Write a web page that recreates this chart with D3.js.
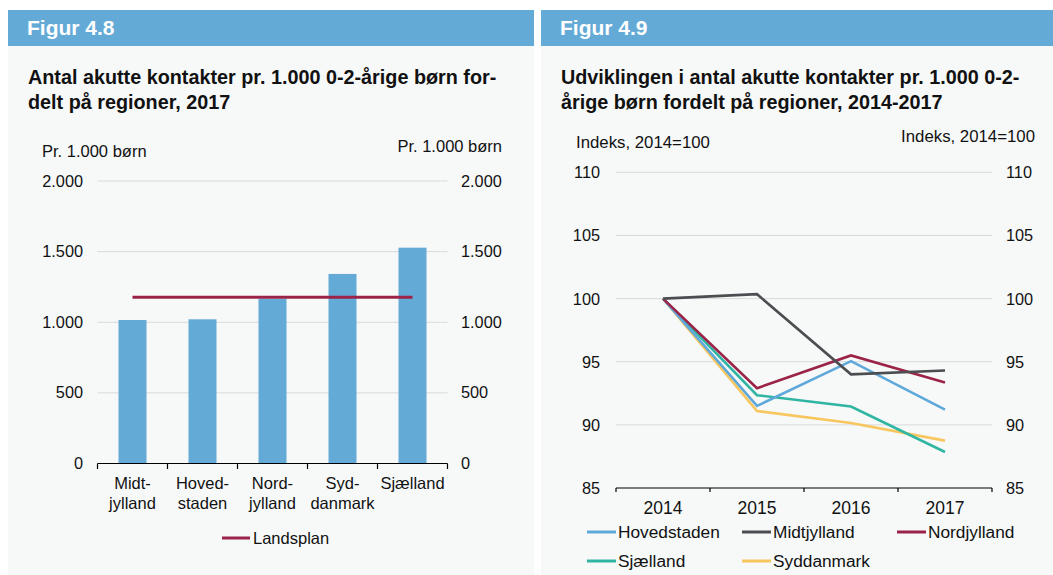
<!DOCTYPE html>
<html><head><meta charset="utf-8">
<script src="https://cdn.jsdelivr.net/npm/d3@7"></script>
<style>
body{margin:0;background:#fff;font-family:"Liberation Sans",Arial,sans-serif;}
svg text{font-family:"Liberation Sans",Arial,sans-serif;}
</style></head><body>
<svg id="c" width="1053" height="575"></svg>
<script>
// ---- Figure 4.8 data ----
const regions48 = [["Midt-","jylland"],["Hoved-","staden"],["Nord-","jylland"],["Syd-","danmark"],["Sjælland"]];
const values48 = [1016, 1021, 1167, 1342, 1528];
const landsplan = 1177;
const ticks48 = [0, 500, 1000, 1500, 2000];
const tickLabels48 = ["0","500","1.000","1.500","2.000"];

// ---- Figure 4.9 data ----
const years = ["2014","2015","2016","2017"];
const hovedstaden = [100, 91.5, 95.05, 91.2];
const midtjylland = [100, 100.35, 94.0, 94.3];
const nordjylland = [100, 92.9, 95.5, 93.35];
const sjaelland = [100, 92.35, 91.45, 87.85];
const syddanmark = [100, 91.1, 90.15, 88.75];
const ticks49 = [85, 90, 95, 100, 105, 110];

const svg = d3.select("#c");
const headerColor = "#64aad6";
const panelBg = "#f7f9f9";
const gridColor = "#d9d9d9";
const tickFs = 16.3;

function panel(x0, x1, title, lines) {
  svg.append("rect").attr("x", x0).attr("y", 10).attr("width", x1 - x0).attr("height", 565).attr("fill", panelBg);
  svg.append("rect").attr("x", x0).attr("y", 10).attr("width", x1 - x0).attr("height", 36).attr("fill", headerColor);
  svg.append("text").attr("x", x0 + 19).attr("y", 35).attr("fill", "#fff").attr("font-weight", "bold").attr("font-size", 21).text(title);
  lines.forEach((l, i) => svg.append("text").attr("x", x0 + 20).attr("y", 84 + i * 25).attr("font-weight", "bold").attr("font-size", 19.8).attr("fill", "#111").text(l));
}

panel(8, 534, "Figur 4.8", ["Antal akutte kontakter pr. 1.000 0-2-årige børn for-", "delt på regioner, 2017"]);
panel(541, 1053, "Figur 4.9", ["Udviklingen i antal akutte kontakter pr. 1.000 0-2-", "årige børn fordelt på regioner, 2014-2017"]);

// ---- Chart 4.8 ----
{
  const xb = d3.scaleBand().domain(d3.range(values48.length)).range([97.5, 447.5]);
  const y = d3.scaleLinear().domain([0, 2000]).range([463.5, 181]);
  const g = svg.append("g");
  g.selectAll("line.grid").data(ticks48.slice(1)).join("line")
    .attr("x1", 97.5).attr("x2", 447.5).attr("y1", d => y(d)).attr("y2", d => y(d))
    .attr("stroke", gridColor).attr("stroke-width", 1);
  g.selectAll("rect.bar").data(values48).join("rect")
    .attr("x", (d, i) => xb(i) + xb.bandwidth() * 0.3).attr("width", xb.bandwidth() * 0.4)
    .attr("y", d => y(d)).attr("height", d => y(0) - y(d)).attr("fill", "#64aad6");
  g.append("line").attr("x1", xb(0) + xb.bandwidth() / 2).attr("x2", xb(values48.length - 1) + xb.bandwidth() / 2)
    .attr("y1", y(landsplan)).attr("y2", y(landsplan)).attr("stroke", "#9b2348").attr("stroke-width", 3);
  g.append("line").attr("x1", 97.5).attr("x2", 447.5).attr("y1", 463.5).attr("y2", 463.5).attr("stroke", "#000").attr("stroke-width", 1.2);
  d3.range(values48.length + 1).forEach(i => {
    const xx = 97.5 + i * xb.bandwidth();
    g.append("line").attr("x1", xx).attr("x2", xx).attr("y1", 463.5).attr("y2", 469).attr("stroke", "#000").attr("stroke-width", 1.2);
  });
  regions48.forEach((lines, i) => {
    lines.forEach((l, j) => g.append("text").attr("x", xb(i) + xb.bandwidth() / 2).attr("y", 489 + j * 19.5)
      .attr("text-anchor", "middle").attr("font-size", 16.5).attr("fill", "#111").text(l));
  });
  ticks48.forEach((t, i) => {
    g.append("text").attr("x", 83).attr("y", y(t) + 5.5).attr("text-anchor", "end").attr("font-size", tickFs).attr("fill", "#111").text(tickLabels48[i]);
    g.append("text").attr("x", 461).attr("y", y(t) + 5.5).attr("text-anchor", "start").attr("font-size", tickFs).attr("fill", "#111").text(tickLabels48[i]);
  });
  g.append("text").attr("x", 42).attr("y", 157).attr("font-size", 16.5).attr("fill", "#111").text("Pr. 1.000 børn");
  g.append("text").attr("x", 502).attr("y", 152).attr("text-anchor", "end").attr("font-size", 16.5).attr("fill", "#111").text("Pr. 1.000 børn");
  g.append("line").attr("x1", 222).attr("x2", 250).attr("y1", 538).attr("y2", 538).attr("stroke", "#9b2348").attr("stroke-width", 3);
  g.append("text").attr("x", 253).attr("y", 544).attr("font-size", 16.5).attr("fill", "#111").text("Landsplan");
}

// ---- Chart 4.9 ----
{
  const x = d3.scaleBand().domain(years).range([616, 992]);
  const y = d3.scaleLinear().domain([85, 110]).range([488, 172.3]);
  const g = svg.append("g");
  g.selectAll("line.grid").data(ticks49.slice(1)).join("line")
    .attr("x1", 616).attr("x2", 992).attr("y1", d => y(d)).attr("y2", d => y(d))
    .attr("stroke", gridColor).attr("stroke-width", 1);
  const series = [
    {name: "Hovedstaden", vals: hovedstaden, color: "#5fa8da"},
    {name: "Midtjylland", vals: midtjylland, color: "#4b4d50"},
    {name: "Nordjylland", vals: nordjylland, color: "#9b2348"},
    {name: "Sjælland", vals: sjaelland, color: "#2fb5a2"},
    {name: "Syddanmark", vals: syddanmark, color: "#f7c65e"}
  ];
  const line = d3.line().x((d, i) => x(years[i]) + x.bandwidth() / 2).y(d => y(d));
  [4, 3, 0, 2, 1].forEach(k => {
    const s = series[k];
    g.append("path").attr("d", line(s.vals)).attr("fill", "none").attr("stroke", s.color).attr("stroke-width", 2.6).attr("stroke-linejoin", "miter");
  });
  g.append("line").attr("x1", 616).attr("x2", 992).attr("y1", 488).attr("y2", 488).attr("stroke", "#000").attr("stroke-width", 1.2);
  d3.range(years.length + 1).forEach(i => {
    const xx = 616 + i * x.bandwidth();
    g.append("line").attr("x1", xx).attr("x2", xx).attr("y1", 488).attr("y2", 492).attr("stroke", "#000").attr("stroke-width", 1.2);
  });
  years.forEach(yr => g.append("text").attr("x", x(yr) + x.bandwidth() / 2).attr("y", 514).attr("text-anchor", "middle").attr("font-size", 17.5).attr("fill", "#111").text(yr));
  ticks49.forEach(t => {
    g.append("text").attr("x", 600).attr("y", y(t) + 6).attr("text-anchor", "end").attr("font-size", tickFs).attr("fill", "#111").text(t);
    g.append("text").attr("x", 1006).attr("y", y(t) + 6).attr("text-anchor", "start").attr("font-size", tickFs).attr("fill", "#111").text(t);
  });
  g.append("text").attr("x", 576).attr("y", 148).attr("font-size", 16.8).attr("fill", "#111").text("Indeks, 2014=100");
  g.append("text").attr("x", 1035).attr("y", 142).attr("text-anchor", "end").attr("font-size", 16.8).attr("fill", "#111").text("Indeks, 2014=100");
  const legPos = [[587, 532], [742, 532], [897, 532], [587, 561], [742, 561]];
  series.forEach((s, i) => {
    const [lx, ly] = legPos[i];
    g.append("line").attr("x1", lx).attr("x2", lx + 29).attr("y1", ly).attr("y2", ly).attr("stroke", s.color).attr("stroke-width", 3);
    g.append("text").attr("x", lx + 31).attr("y", ly + 6).attr("font-size", 17.3).attr("fill", "#111").text(s.name);
  });
}
</script></body></html>
